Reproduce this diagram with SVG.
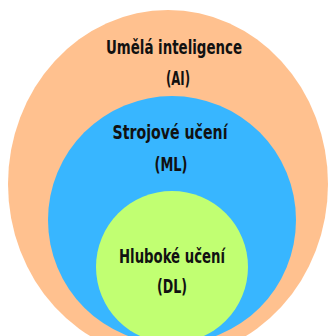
<svg xmlns="http://www.w3.org/2000/svg" width="329" height="336" viewBox="0 0 329 336">
  <style>
    .label { font-family: "DejaVu Sans Condensed", "Roboto", "Liberation Sans", sans-serif; font-weight: bold; font-size: 20px; fill: #111111; text-anchor: middle; }
  </style>
  <rect width="329" height="336" fill="#ffffff"/>
  <g id="ai">
    <ellipse cx="168" cy="184" rx="160" ry="174" fill="#FFC18F"/>
    <text class="label" x="174" y="54" textLength="136" lengthAdjust="spacingAndGlyphs">Umělá inteligence</text>
    <text class="label" x="178" y="85" textLength="24" lengthAdjust="spacingAndGlyphs">(AI)</text>
  </g>
  <g id="ml">
    <circle cx="172" cy="220" r="124" fill="#38B6FF"/>
    <text class="label" x="170" y="139" textLength="115" lengthAdjust="spacingAndGlyphs">Strojové učení</text>
    <text class="label" x="171" y="171" textLength="33" lengthAdjust="spacingAndGlyphs">(ML)</text>
  </g>
  <g id="dl">
    <circle cx="172" cy="267" r="76" fill="#C1FF72"/>
    <text class="label" x="172" y="263" textLength="106" lengthAdjust="spacingAndGlyphs">Hluboké učení</text>
    <text class="label" x="172" y="293" textLength="30" lengthAdjust="spacingAndGlyphs">(DL)</text>
  </g>
  <g id="connectors"/>
</svg>
